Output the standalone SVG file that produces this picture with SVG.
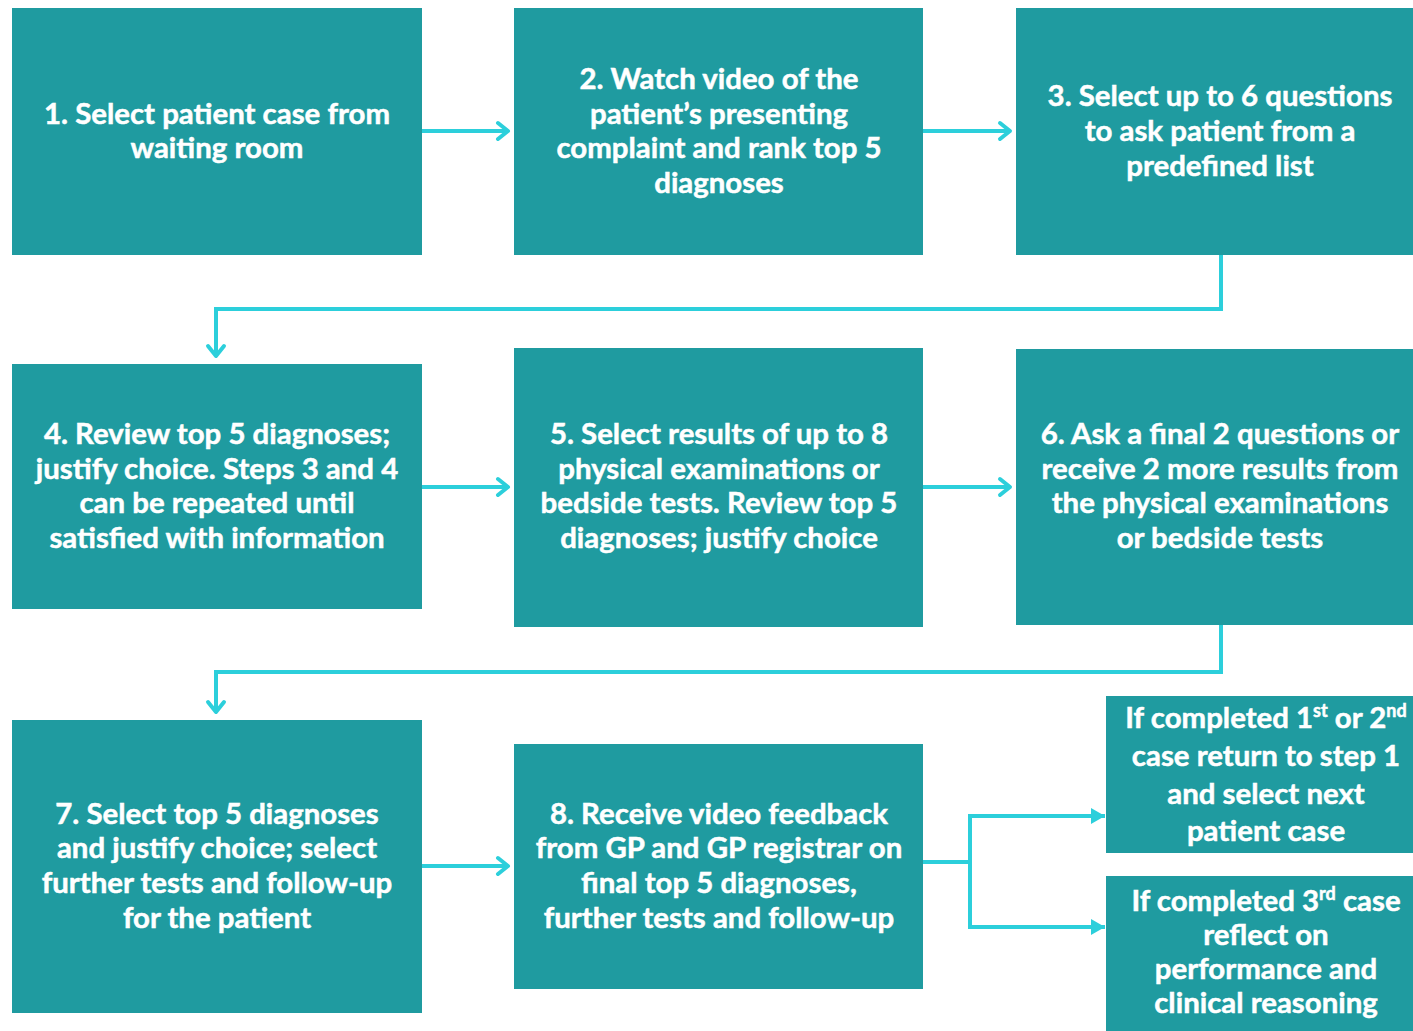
<svg xmlns="http://www.w3.org/2000/svg" width="1413" height="1031" viewBox="0 0 1413 1031">
<style>
.box{fill:#1f9ba0}
.t{font-family:Lato,"Liberation Sans",sans-serif;font-weight:700;font-size:29.4px;fill:#ffffff;text-anchor:middle;stroke:#ffffff;stroke-width:0.5}
.c{fill:none;stroke:#2ccfdb;stroke-width:4}
.sup{font-size:18px}
</style>
<defs>
<marker id="chev" markerUnits="userSpaceOnUse" markerWidth="20" markerHeight="24" refX="17" refY="12" orient="auto">
<path d="M7,4 L17,12 L7,20" fill="none" stroke="#2ccfdb" stroke-width="4" stroke-linecap="round" stroke-linejoin="round"/>
</marker>
<marker id="tri" markerUnits="userSpaceOnUse" markerWidth="16" markerHeight="16" refX="14" refY="8" orient="auto">
<path d="M0,0 L14,8 L0,16 Z" fill="#2ccfdb"/>
</marker>
</defs>
<rect width="1413" height="1031" fill="#ffffff"/>
<g id="connectors">
<line class="c" x1="422" y1="131" x2="508" y2="131" marker-end="url(#chev)"/>
<line class="c" x1="923" y1="131" x2="1010" y2="131" marker-end="url(#chev)"/>
<polyline class="c" points="1221,255 1221,309 216,309 216,356" marker-end="url(#chev)"/>
<line class="c" x1="422" y1="487" x2="508" y2="487" marker-end="url(#chev)"/>
<line class="c" x1="923" y1="487" x2="1010" y2="487" marker-end="url(#chev)"/>
<polyline class="c" points="1221,625 1221,672 216,672 216,712" marker-end="url(#chev)"/>
<line class="c" x1="422" y1="866" x2="508" y2="866" marker-end="url(#chev)"/>
<line class="c" x1="923" y1="862" x2="970" y2="862"/>
<polyline class="c" points="1105,816 970,816 970,927 1105,927"/>
<line class="c" x1="970" y1="816" x2="1105" y2="816" marker-end="url(#tri)"/>
<line class="c" x1="970" y1="927" x2="1105" y2="927" marker-end="url(#tri)"/>
</g>
<g id="n1"><rect class="box" x="12" y="8" width="410" height="247"/>
<text class="t"><tspan x="217" y="124">1. Select patient case from</tspan><tspan x="217" y="158">waiting room</tspan></text></g>
<g id="n2"><rect class="box" x="514" y="8" width="409" height="247"/>
<text class="t"><tspan x="719" y="89">2. Watch video of the</tspan><tspan x="719" y="124">patient’s presenting</tspan><tspan x="719" y="158">complaint and rank top 5</tspan><tspan x="719" y="193">diagnoses</tspan></text></g>
<g id="n3"><rect class="box" x="1016" y="8" width="397" height="247"/>
<text class="t"><tspan x="1220" y="106">3. Select up to 6 questions</tspan><tspan x="1220" y="141">to ask patient from a</tspan><tspan x="1220" y="176">predefined list</tspan></text></g>
<g id="n4"><rect class="box" x="12" y="364" width="410" height="245"/>
<text class="t"><tspan x="217" y="444">4. Review top 5 diagnoses;</tspan><tspan x="217" y="479">justify choice. Steps 3 and 4</tspan><tspan x="217" y="513">can be repeated until</tspan><tspan x="217" y="548">satisfied with information</tspan></text></g>
<g id="n5"><rect class="box" x="514" y="348" width="409" height="279"/>
<text class="t"><tspan x="719" y="444">5. Select results of up to 8</tspan><tspan x="719" y="479">physical examinations or</tspan><tspan x="719" y="513">bedside tests. Review top 5</tspan><tspan x="719" y="548">diagnoses; justify choice</tspan></text></g>
<g id="n6"><rect class="box" x="1016" y="349" width="397" height="276"/>
<text class="t"><tspan x="1220" y="444">6. Ask a final 2 questions or</tspan><tspan x="1220" y="479">receive 2 more results from</tspan><tspan x="1220" y="513">the physical examinations</tspan><tspan x="1220" y="548">or bedside tests</tspan></text></g>
<g id="n7"><rect class="box" x="12" y="720" width="410" height="293"/>
<text class="t"><tspan x="217" y="824">7. Select top 5 diagnoses</tspan><tspan x="217" y="858">and justify choice; select</tspan><tspan x="217" y="893">further tests and follow-up</tspan><tspan x="217" y="928">for the patient</tspan></text></g>
<g id="n8"><rect class="box" x="514" y="744" width="409" height="245"/>
<text class="t"><tspan x="719" y="824">8. Receive video feedback</tspan><tspan x="719" y="858">from GP and GP registrar on</tspan><tspan x="719" y="893">final top 5 diagnoses,</tspan><tspan x="719" y="928">further tests and follow-up</tspan></text></g>
<g id="n9"><rect class="box" x="1106" y="696" width="307" height="157"/>
<text class="t"><tspan x="1266" y="728">If completed 1<tspan class="sup" dy="-11">st</tspan><tspan dy="11"> or 2</tspan><tspan class="sup" dy="-11">nd</tspan></tspan><tspan x="1266" y="766">case return to step 1</tspan><tspan x="1266" y="804">and select next</tspan><tspan x="1266" y="841">patient case</tspan></text></g>
<g id="n10"><rect class="box" x="1106" y="876" width="307" height="155"/>
<text class="t"><tspan x="1266" y="911">If  completed 3<tspan class="sup" dy="-11">rd</tspan><tspan dy="11"> case</tspan></tspan><tspan x="1266" y="945">reflect on</tspan><tspan x="1266" y="979">performance and</tspan><tspan x="1266" y="1013">clinical reasoning</tspan></text></g>
</svg>
